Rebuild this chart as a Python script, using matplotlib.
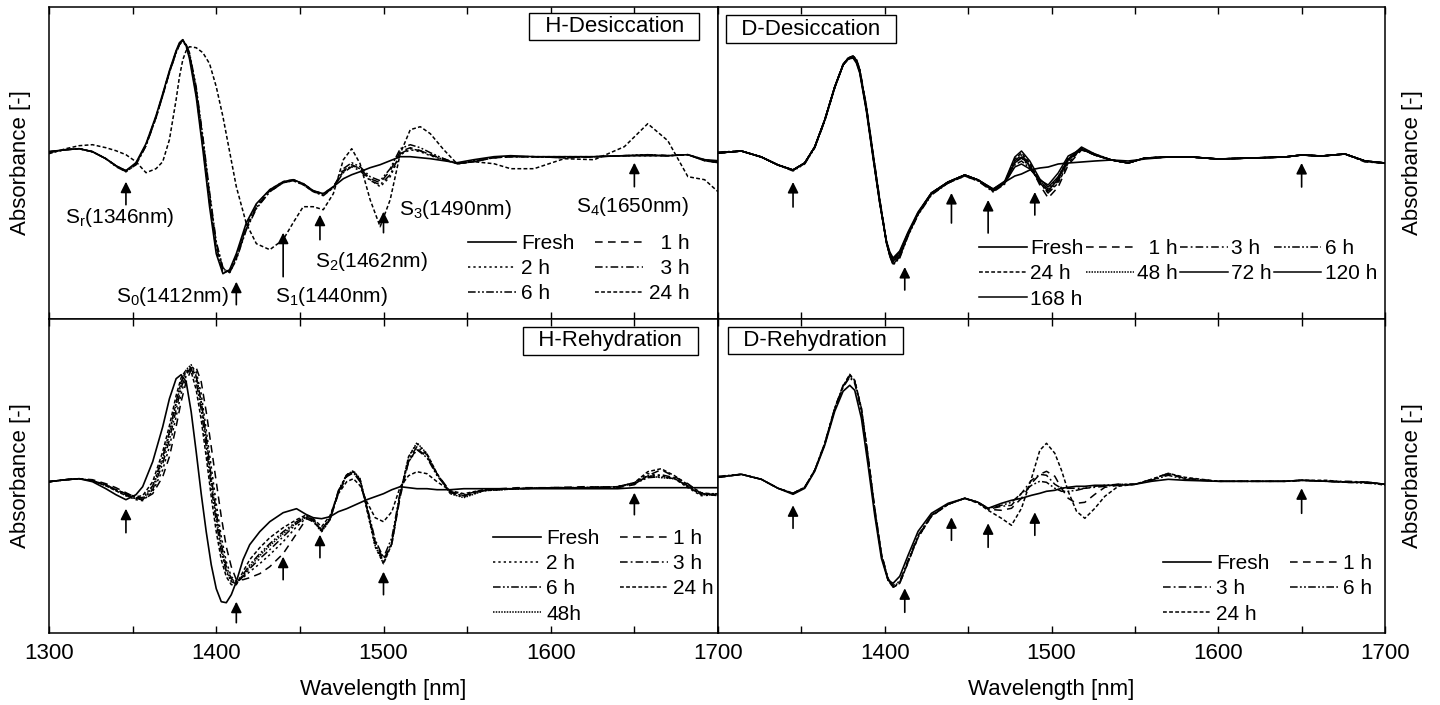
import matplotlib
matplotlib.use('Agg')
import matplotlib.pyplot as plt
from matplotlib.ticker import MultipleLocator

plt.rcParams['font.family'] = ['Liberation Sans', 'DejaVu Sans']
plt.rcParams['mathtext.default'] = 'regular'

# ---------------- H-Desiccation (top left) ----------------
hd_wl = [1300, 1310, 1318, 1326, 1334, 1340, 1346, 1352, 1358, 1364, 1368, 1372, 1376, 1378, 1380,
         1382, 1384, 1388, 1392, 1396, 1400, 1404, 1408, 1412, 1418, 1424, 1432, 1440, 1446, 1452,
         1458, 1464, 1470, 1476, 1481, 1486, 1492, 1498, 1504, 1510, 1516, 1522, 1528, 1536, 1544,
         1554, 1566, 1576, 1590, 1608, 1626, 1644, 1658, 1670, 1682, 1692, 1700]
hd_fresh = [5, 7, 8, 5, -2, -9, -14, -6, 13, 41, 63, 86, 106, 114, 117,
            111, 98, 60, 7, -50, -97, -117, -113, -97, -66, -47, -33, -25, -23, -27,
            -34, -37, -30, -22, -18, -15, -11, -8, -4, 0, 0, -1, -2, -4, -6,
            -3, 0, 1, 0, 0, 0, 1, 1, 1, 2, -3, -4]
hd_1h = [5, 7, 8, 5, -2, -9, -14, -7, 12, 40, 62, 85, 105, 113, 117,
         112, 102, 66, 15, -42, -90, -114, -115, -100, -70, -50, -34, -26, -23, -27,
         -34, -38, -30, -14, -8, -12, -22, -26, -14, 5, 9, 6, 2, -2, -7,
         -5, -1, 0, 0, -1, 0, 1, 2, 1, 2, -4, -5]
hd_2h = [4, 7, 8, 5, -2, -9, -14, -7, 12, 40, 62, 85, 105, 113, 116,
         110, 100, 63, 11, -46, -94, -116, -114, -99, -68, -48, -33, -25, -23, -27,
         -34, -37, -30, -15, -9, -12, -23, -30, -20, 2, 7, 5, 1, -3, -7,
         -4, -1, 0, 0, 0, 0, 1, 1, 1, 2, -3, -5]
hd_3h = [4, 7, 8, 5, -2, -9, -15, -8, 11, 39, 61, 84, 104, 112, 116,
         112, 103, 68, 18, -38, -87, -112, -116, -102, -72, -51, -35, -26, -24, -28,
         -35, -38, -31, -16, -10, -14, -24, -28, -18, 3, 8, 6, 2, -3, -7,
         -5, -1, 0, 0, -1, 0, 1, 2, 1, 2, -4, -6]
hd_6h = [5, 7, 8, 5, -2, -10, -15, -8, 11, 39, 61, 84, 104, 112, 116,
         112, 104, 70, 20, -35, -85, -111, -116, -103, -73, -52, -35, -26, -24, -28,
         -35, -39, -31, -12, -6, -10, -20, -24, -12, 8, 12, 9, 4, -2, -7,
         -5, -1, 0, 0, -1, 0, 1, 2, 1, 2, -4, -6]
hd_24h = [3, 8, 11, 12, 9, 6, 2, -5, -16, -12, -5, 17, 57, 80, 97,
          106, 110, 109, 104, 93, 70, 40, 5, -30, -67, -87, -93, -83, -66, -50,
          -50, -53, -37, -3, 8, -7, -43, -70, -43, 3, 27, 30, 23, 7, -7,
          -5, -7, -12, -12, -2, -3, 10, 33, 16, -20, -23, -35]

# ---------------- D-Desiccation (top right) ----------------
dd_wl = [1300, 1314, 1326, 1336, 1345, 1352, 1358, 1364, 1370, 1375, 1378, 1381, 1383, 1385, 1389,
         1393, 1397, 1401, 1403, 1405, 1409, 1414, 1420, 1428, 1438, 1448, 1456, 1465, 1472, 1478,
         1482, 1487, 1493, 1498, 1504, 1510, 1518, 1526, 1536, 1546, 1556, 1570, 1584, 1600, 1620,
         1640, 1650, 1662, 1676, 1688, 1700]
dd_fresh = [2, 4, -2, -10, -15, -8, 8, 35, 68, 90, 96, 97, 92, 82, 44,
            -3, -48, -86, -97, -103, -96, -77, -57, -38, -27, -20, -25, -34, -27, -21,
            -19, -15, -13, -12, -9, -8, -7, -6, -5, -6, -4, -2, -2, -4, -3,
            -2, 0, -1, 1, -6, -8]
dd_1h = [2, 4, -2, -10, -15, -8, 8, 35, 68, 91, 97, 99, 95, 85, 47,
         0, -46, -87, -100, -108, -101, -80, -59, -39, -28, -21, -26, -36, -28, -6,
         0, -10, -30, -43, -32, -10, 5, 0, -5, -8, -3, -2, -2, -4, -3,
         -2, 0, -1, 1, -6, -9]
dd_3h = [2, 4, -2, -10, -15, -8, 8, 34, 67, 90, 96, 98, 94, 84, 46,
         -1, -47, -88, -100, -106, -99, -79, -58, -38, -27, -20, -25, -35, -27, -8,
         -3, -12, -28, -38, -26, -6, 6, 0, -5, -8, -3, -2, -2, -4, -3,
         -2, 0, -1, 1, -7, -8]
dd_6h = [3, 4, -2, -10, -16, -9, 7, 34, 67, 90, 97, 99, 96, 86, 49,
         2, -44, -86, -101, -110, -103, -81, -60, -40, -28, -21, -26, -37, -29, -10,
         -6, -13, -26, -34, -22, -3, 7, 1, -5, -8, -3, -2, -2, -4, -3,
         -2, 0, -1, 1, -6, -8]
dd_24h = [2, 4, -2, -10, -15, -8, 8, 35, 68, 90, 96, 98, 94, 84, 46,
          -1, -47, -87, -99, -105, -98, -78, -58, -38, -27, -20, -25, -35, -27, -4,
          2, -8, -27, -38, -28, -8, 6, 0, -5, -8, -3, -2, -2, -4, -3,
          -2, 0, -1, 1, -6, -8]
dd_48h = [2, 4, -2, -10, -15, -8, 8, 35, 68, 90, 96, 98, 94, 84, 46,
          -1, -47, -88, -100, -107, -100, -79, -59, -39, -27, -20, -25, -35, -27, -6,
          0, -10, -26, -35, -24, -5, 7, 0, -5, -8, -3, -2, -2, -4, -3,
          -2, 0, -1, 1, -6, -8]
dd_72h = [2, 4, -2, -10, -15, -8, 8, 35, 68, 90, 96, 98, 93, 83, 45,
          -2, -48, -87, -98, -104, -97, -78, -58, -38, -27, -20, -25, -34, -26, -2,
          4, -6, -24, -32, -22, -4, 8, 1, -5, -8, -3, -2, -2, -4, -3,
          -2, 0, -1, 1, -6, -8]
dd_120h = [2, 4, -2, -10, -15, -8, 8, 35, 68, 90, 97, 99, 95, 85, 48,
           1, -45, -87, -101, -109, -102, -80, -59, -39, -28, -20, -25, -36, -28, -12,
           -9, -14, -25, -30, -18, -1, 6, 0, -5, -8, -3, -2, -2, -4, -3,
           -2, 0, -1, 1, -6, -8]
dd_168h = [2, 4, -2, -10, -15, -8, 8, 35, 68, 90, 96, 98, 94, 84, 46,
           -1, -47, -87, -99, -106, -99, -79, -58, -38, -27, -20, -25, -35, -27, -8,
           -2, -11, -28, -36, -24, -5, 6, 0, -5, -8, -3, -2, -2, -4, -3,
           -2, 0, -1, 1, -6, -8]

# ---------------- H-Rehydration (bottom left) ----------------
hr_wl = [1300, 1310, 1318, 1326, 1334, 1340, 1346, 1352, 1356, 1362, 1368, 1372, 1376, 1379, 1382,
         1385, 1388, 1391, 1394, 1397, 1400, 1403, 1406, 1409, 1412, 1416, 1420, 1426, 1432, 1440,
         1448, 1454, 1458, 1463, 1468, 1473, 1478, 1482, 1486, 1490, 1495, 1500, 1505, 1510, 1515,
         1520, 1526, 1532, 1540, 1548, 1560, 1580, 1600, 1620, 1640, 1650, 1658, 1666, 1674, 1682,
         1690, 1700]
hr_fresh = [0, 2, 3, 0, -7, -13, -18, -13, -5, 20, 55, 83, 103, 107, 100, 70, 30, -12, -50, -83,
            -107, -120, -121, -113, -100, -78, -63, -50, -40, -31, -27, -33, -36, -37, -35, -30, -27, -24, -21, -18,
            -15, -12, -8, -5, -6, -7, -7, -8, -8, -7, -7, -7, -7, -7, -7, -6, -6, -6, -6, -6,
            -6, -6]
hr_1h = [0, 2, 3, 2, -2, -6, -11, -16, -18, -12, 5, 25, 55, 80, 100, 112, 114, 100, 70, 35,
         0, -35, -65, -85, -98, -98, -96, -92, -85, -72, -52, -37, -40, -48, -38, -12, 5, 9, 0, -25,
         -60, -78, -62, -15, 20, 33, 25, 8, -10, -14, -8, -6, -6, -5, -6, -3, 6, 12, 5, -2,
         -12, -14]
hr_2h = [0, 2, 3, 1, -4, -9, -14, -18, -19, -10, 12, 35, 65, 88, 106, 116, 110, 88, 52, 15,
         -22, -55, -80, -95, -100, -96, -90, -82, -73, -60, -45, -36, -40, -50, -38, -10, 7, 10, 2, -28,
         -65, -82, -62, -12, 25, 38, 28, 8, -12, -15, -9, -7, -6, -6, -5, -1, 8, 6, 3, -6,
         -14, -13]
hr_3h = [0, 2, 3, 1, -4, -8, -13, -17, -18, -8, 18, 42, 72, 94, 108, 114, 105, 80, 45, 5,
         -30, -62, -85, -97, -101, -95, -87, -77, -68, -55, -42, -35, -39, -49, -37, -10, 6, 9, 1, -26,
         -62, -80, -60, -12, 22, 35, 27, 7, -11, -14, -9, -7, -6, -6, -5, -2, 5, 7, 4, -5,
         -13, -12]
hr_6h = [0, 2, 3, 1, -3, -8, -12, -16, -16, -4, 25, 50, 80, 100, 110, 113, 100, 72, 35, -5,
         -40, -70, -90, -100, -102, -93, -83, -72, -62, -50, -40, -34, -38, -48, -36, -9, 7, 10, 2, -24,
         -58, -76, -56, -10, 20, 32, 24, 6, -10, -13, -8, -7, -6, -6, -5, -2, 4, 5, 3, -4,
         -12, -12]
hr_24h = [0, 2, 3, 1, -3, -8, -12, -15, -14, 0, 30, 56, 86, 104, 112, 110, 92, 62, 25, -15,
          -50, -78, -95, -103, -103, -90, -78, -66, -56, -46, -38, -33, -37, -45, -34, -12, 0, 3, -4, -20,
          -36, -40, -30, -5, 6, 10, 8, 0, -9, -12, -8, -7, -6, -6, -5, -1, 10, 13, 6, -3,
          -11, -13]
hr_48h = [0, 2, 3, 1, -4, -9, -14, -17, -17, -6, 22, 48, 78, 98, 112, 117, 106, 80, 42, 2,
          -35, -66, -88, -99, -102, -94, -85, -74, -64, -52, -41, -35, -39, -50, -38, -10, 7, 11, 3, -26,
          -64, -82, -62, -12, 25, 39, 28, 8, -12, -16, -9, -7, -6, -6, -5, -1, 6, 4, 3, -5,
          -13, -13]

# ---------------- D-Rehydration (bottom right) ----------------
dr_wl = [1300, 1314, 1326, 1336, 1345, 1352, 1358, 1364, 1370, 1375, 1379, 1382, 1386, 1390, 1394,
         1398, 1402, 1405, 1409, 1414, 1420, 1428, 1438, 1448, 1456, 1462, 1470, 1476, 1482, 1488,
         1493, 1497, 1502, 1506, 1510, 1515, 1520, 1526, 1532, 1540, 1550, 1560, 1570, 1580, 1600,
         1620, 1640, 1650, 1665, 1678, 1690, 1700]
dr_fresh = [1, 4, -1, -10, -16, -10, 7, 33, 67, 87, 93, 88, 60, 13, -37, -80, -102, -105, -98, -77,
            -53, -35, -25, -20, -24, -30, -25, -22, -20, -17, -15, -13, -12, -10, -9, -8, -8, -7, -7, -7,
            -6, -3, -1, -2, -3, -3, -3, -2, -3, -4, -4, -6]
dr_1h = [1, 4, -1, -10, -15, -9, 8, 34, 70, 93, 103, 97, 70, 22, -30, -75, -101, -109, -105, -84,
         -59, -38, -26, -20, -24, -31, -32, -30, -20, -5, 4, 7, 2, -10, -20, -25, -24, -16, -9, -7,
         -6, -2, 4, 0, -3, -3, -3, -2, -3, -4, -4, -6]
dr_3h = [1, 4, -1, -10, -15, -9, 8, 34, 69, 91, 101, 95, 67, 19, -33, -77, -102, -107, -103, -82,
         -57, -37, -26, -20, -24, -31, -28, -27, -15, -2, 4, 3, -6, -10, -10, -10, -10, -9, -8, -6,
         -6, -1, 5, 0, -3, -3, -3, -2, -3, -3, -4, -6]
dr_6h = [2, 4, -1, -10, -15, -9, 8, 35, 70, 92, 102, 97, 69, 21, -31, -76, -100, -108, -104, -83,
         -58, -37, -26, -20, -24, -30, -27, -24, -15, -7, -3, -4, -10, -13, -13, -12, -10, -8, -7, -6,
         -6, -2, 3, -1, -3, -3, -3, -2, -3, -4, -5, -6]
dr_24h = [1, 4, -1, -10, -15, -9, 8, 35, 70, 92, 104, 98, 70, 22, -31, -76, -102, -109, -105, -84,
          -59, -38, -26, -20, -25, -32, -40, -47, -30, 0, 28, 35, 25, 8, -13, -33, -40, -30, -18, -8,
          -6, -1, 5, 1, -3, -3, -3, -2, -2, -4, -4, -7]

# marked bands (arrows) for each panel: wavelength, arrow tail, arrow head
hd_arrow_wl = [1346, 1412, 1440, 1462, 1500, 1650]
hd_arrow_y = [(-48, -25), (-148, -125), (-120, -76), (-83, -58), (-76, -55), (-30, -6)]
dd_arrow_wl = [1345, 1412, 1440, 1462, 1490, 1650]
dd_arrow_y = [(-52, -27), (-135, -112), (-68, -38), (-78, -45), (-60, -37), (-32, -8)]
hr_arrow_wl = [1346, 1412, 1440, 1462, 1500, 1650]
hr_arrow_y = [(-51, -27), (-141, -120), (-98, -75), (-76, -53), (-113, -90), (-33, -11)]
dr_arrow_wl = [1345, 1412, 1440, 1462, 1490, 1650]
dr_arrow_y = [(-50, -27), (-134, -110), (-62, -39), (-69, -45), (-57, -34), (-35, -10)]

band_labels = [r'S$_r$(1346nm)', r'S$_0$(1412nm)', r'S$_1$(1440nm)',
               r'S$_2$(1462nm)', r'S$_3$(1490nm)', r'S$_4$(1650nm)']

styles = {
    'Fresh': '-',
    '1 h': (0, (5, 3.5)),
    '2 h': (0, (1.5, 2)),
    '3 h': (0, (5, 2, 1.2, 2)),
    '6 h': (0, (5, 1.5, 1.2, 1.5, 1.2, 1.5)),
    '24 h': (0, (2.5, 1.5)),
    '48 h': (0, (1, 0.8)),
    '48h': (0, (1, 0.8)),
    '72 h': '-',
    '120 h': '-',
    '168 h': '-',
}

fig = plt.figure(figsize=(14.4, 7.05), dpi=100)
x0, xm, x1 = 49 / 1440, 718 / 1440, 1385 / 1440
y1, ym, y0 = 1 - 7 / 705, 1 - 319 / 705, 1 - 633 / 705
ax_hd = fig.add_axes([x0, ym, xm - x0, y1 - ym])
ax_dd = fig.add_axes([xm, ym, x1 - xm, y1 - ym])
ax_hr = fig.add_axes([x0, y0, xm - x0, ym - y0])
ax_dr = fig.add_axes([xm, y0, x1 - xm, ym - y0])


def draw(ax, wl, names, series, ylim, title, title_pos, arrow_wl, arrow_y):
    lines = {}
    for name, vals in zip(names, series):
        lw = 1.2 if name == 'Fresh' else 1.1
        lines[name], = ax.plot(wl, vals, color='black', lw=lw, linestyle=styles[name])
    for w, (tail, head) in zip(arrow_wl, arrow_y):
        ax.annotate('', xy=(w, head), xytext=(w, tail),
                    arrowprops=dict(arrowstyle='-|>', color='black', lw=1.2,
                                    mutation_scale=16, shrinkA=0, shrinkB=0))
    ax.set_xlim(1300, 1700)
    ax.set_ylim(*ylim)
    ax.xaxis.set_major_locator(MultipleLocator(100))
    ax.xaxis.set_minor_locator(MultipleLocator(50))
    ax.tick_params(which='both', axis='x', direction='in', top=True, length=5, width=1,
                   labelsize=16, pad=7)
    ax.tick_params(axis='y', left=False, right=False, labelleft=False, labelright=False)
    for sp in ax.spines.values():
        sp.set_linewidth(1.1)
    ax.text(title_pos[0], title_pos[1], '  ' + title + '  ', transform=ax.transAxes,
            ha='center', va='center', fontsize=16,
            bbox=dict(boxstyle='square,pad=0.15', fc='white', ec='black', lw=1))
    return lines


def legend(ax, lines, order, labels, ncol, anchor, colsp=1.0, textpad=0.25):
    ax.legend([lines[k] for k in order], labels, ncol=ncol, loc='lower right',
              bbox_to_anchor=anchor, frameon=False, fontsize=15, handlelength=2.3,
              handletextpad=textpad, columnspacing=colsp, labelspacing=0.3,
              borderpad=0, borderaxespad=0)


hd_names = ['Fresh', '1 h', '2 h', '3 h', '6 h', '24 h']
l = draw(ax_hd, hd_wl, hd_names, [hd_fresh, hd_1h, hd_2h, hd_3h, hd_6h, hd_24h],
         (-162.3, 149.7), 'H-Desiccation', (0.845, 0.9375), hd_arrow_wl, hd_arrow_y)
legend(ax_hd, l, ['Fresh', '2 h', '6 h', '1 h', '3 h', '24 h'],
       ['Fresh', '2 h', '6 h', '  1 h', '  3 h', '24 h'], 2, (0.957, 0.05))
note_pos = [(1342.5, -61), (1373.5, -140), (1468.6, -140), (1492.5, -105),
            (1542.8, -53), (1648.6, -50)]
for txt, (nx, ny) in zip(band_labels, note_pos):
    ax_hd.text(nx, ny, txt, ha='center', va='center', fontsize=15)

dd_names = ['Fresh', '1 h', '3 h', '6 h', '24 h', '48 h', '72 h', '120 h', '168 h']
l = draw(ax_dd, dd_wl, dd_names,
         [dd_fresh, dd_1h, dd_3h, dd_6h, dd_24h, dd_48h, dd_72h, dd_120h, dd_168h],
         (-164, 148), 'D-Desiccation', (0.139, 0.929), dd_arrow_wl, dd_arrow_y)
legend(ax_dd, l, ['Fresh', '24 h', '168 h', '1 h', '48 h', '3 h', '72 h', '6 h', '120 h'],
       ['Fresh', '24 h', '168 h', '  1 h', '48 h', '3 h', '72 h', '6 h', '120 h'], 4,
       (0.988, 0.033), colsp=0.1, textpad=0.15)

hr_names = ['Fresh', '1 h', '2 h', '3 h', '6 h', '24 h', '48h']
l = draw(ax_hr, hr_wl, hr_names, [hr_fresh, hr_1h, hr_2h, hr_3h, hr_6h, hr_24h, hr_48h],
         (-151.3, 162.7), 'H-Rehydration', (0.839, 0.930), hr_arrow_wl, hr_arrow_y)
legend(ax_hr, l, ['Fresh', '2 h', '6 h', '48h', '1 h', '3 h', '24 h'],
       ['Fresh', '2 h', '6 h', '48h', '1 h', '3 h', '24 h'], 2, (0.994, 0.03))

dr_names = ['Fresh', '1 h', '3 h', '6 h', '24 h']
l = draw(ax_dr, dr_wl, dr_names, [dr_fresh, dr_1h, dr_3h, dr_6h, dr_24h],
         (-154.7, 159.3), 'D-Rehydration', (0.146, 0.931), dr_arrow_wl, dr_arrow_y)
legend(ax_dr, l, ['Fresh', '3 h', '24 h', '1 h', '6 h'],
       ['Fresh', '3 h', '24 h', '1 h', '6 h'], 2, (0.981, 0.03))

for ax in (ax_hd, ax_dd):
    ax.tick_params(axis='x', labelbottom=False)
for ax in (ax_dd, ax_dr):
    ax.set_xticks([1400, 1500, 1600, 1700])
    ax.yaxis.set_label_position('right')
    ax.set_ylabel('Absorbance [-]', fontsize=16, rotation=90, labelpad=12)
for ax in (ax_hd, ax_hr):
    ax.set_ylabel('Absorbance [-]', fontsize=16, labelpad=13)
for ax in (ax_hr, ax_dr):
    ax.set_xlabel('Wavelength [nm]', fontsize=16, labelpad=11)

fig.savefig('out.png', dpi=100)
